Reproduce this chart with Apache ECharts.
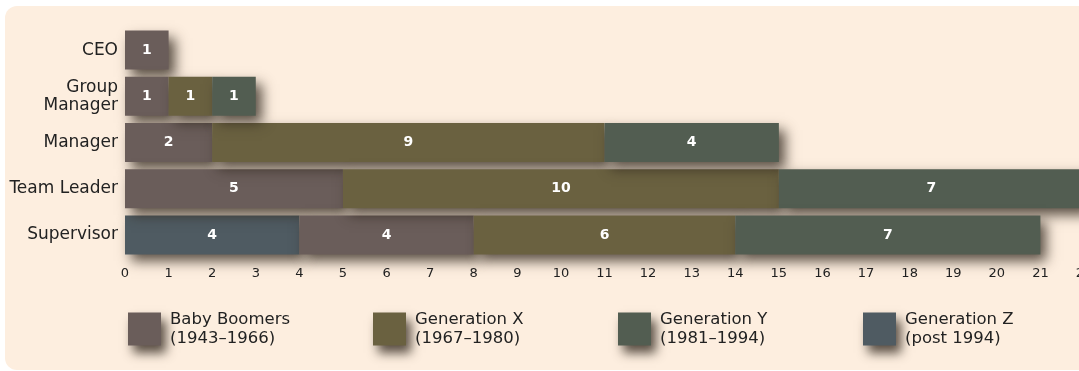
<!DOCTYPE html>
<html>
<head>
<meta charset="utf-8">
<script src="https://cdn.jsdelivr.net/npm/echarts@6/dist/echarts.min.js"></script>
<style>
html,body{margin:0;padding:0;background:#fff;}
#c{width:1079px;height:371px;}
</style>
</head>
<body>
<div id="c"></div>
<script>
var categories = ['CEO', 'Group\nManager', 'Manager', 'Team Leader', 'Supervisor'];
var babyBoomers = [1, 1, 2, 5, 4];
var genX = [null, 1, 9, 10, 6];
var genY = [null, 1, 4, 7, 7];
var genZ = [null, null, null, null, 4];
var seriesNames = ['Baby Boomers', 'Generation X', 'Generation Y', 'Generation Z'];
var seriesYears = ['(1943\u20131966)', '(1967\u20131980)', '(1981\u20131994)', '(post 1994)'];
var xTicks = {min: 0, max: 22, interval: 1};

var colors = {
  'Baby Boomers': '#6a5d5a',
  'Generation X': '#6a6140',
  'Generation Y': '#525d51',
  'Generation Z': '#4f5b62'
};
var FONT = 'DejaVu Sans';

function bar(name, data) {
  return {
    name: name,
    type: 'bar',
    stack: 'total',
    data: data,
    barWidth: 39,
    itemStyle: {
      color: colors[name],
      shadowBlur: 12,
      shadowColor: 'rgba(50,40,30,0.8)',
      shadowOffsetX: 6,
      shadowOffsetY: 7
    },
    label: {
      show: true,
      position: 'inside',
      color: '#fff',
      fontFamily: FONT,
      fontWeight: 'bold',
      fontSize: 14
    }
  };
}

var chart = echarts.init(document.getElementById('c'));
chart.setOption({
  backgroundColor: '#ffffff',
  animation: false,
  graphic: [{
    type: 'rect',
    z: -10,
    silent: true,
    shape: {x: 5, y: 6, width: 1100, height: 364, r: 12},
    style: {fill: '#fdeedf'}
  }],
  grid: {left: 125, width: 959, top: 27, height: 231, containLabel: false, outerBoundsMode: 'none'},
  xAxis: {
    type: 'value',
    min: xTicks.min,
    max: xTicks.max,
    interval: xTicks.interval,
    splitLine: {show: false},
    axisLine: {show: false},
    axisTick: {show: false},
    axisLabel: {color: '#222', fontFamily: FONT, fontSize: 13, margin: 9, showMaxLabel: true}
  },
  yAxis: {
    type: 'category',
    inverse: true,
    data: categories,
    axisLine: {show: false},
    axisTick: {show: false},
    axisLabel: {color: '#222', fontFamily: FONT, fontSize: 17, lineHeight: 18, margin: 7, align: 'right'}
  },
  legend: {
    data: seriesNames,
    left: 123,
    top: 302,
    width: 1000,
    itemWidth: 33,
    itemHeight: 33,
    itemGap: 10,
    icon: 'rect',
    itemStyle: {shadowBlur: 10, shadowColor: 'rgba(50,40,30,0.8)', shadowOffsetX: 5, shadowOffsetY: 7},
    formatter: function (name) {
      return name + '\n' + seriesYears[seriesNames.indexOf(name)];
    },
    textStyle: {color: '#222', fontFamily: FONT, fontSize: 16.5, lineHeight: 19, width: 193, padding: [6, 0, 0, 4]}
  },
  series: [
    bar('Generation Z', genZ),
    bar('Baby Boomers', babyBoomers),
    bar('Generation X', genX),
    bar('Generation Y', genY)
  ]
});
</script>
</body>
</html>
